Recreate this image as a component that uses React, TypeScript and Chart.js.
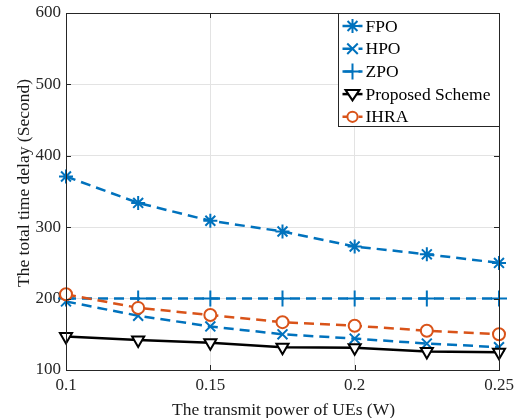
import React, { useEffect, useRef } from 'react';
import { Chart, registerables } from 'chart.js';
Chart.register(...registerables);

const powers = [0.1, 0.125, 0.15, 0.175, 0.2, 0.225, 0.25];
const fpo = [371, 334, 309, 294, 273, 262, 250];
const hpo = [196, 176, 161, 150, 144, 137, 132];
const zpo = [200, 200, 200, 200, 200, 200, 200];
const proposed = [147, 142, 138, 132, 131, 126, 125];
const ihra = [206, 187, 177, 167, 162, 155, 150];
const xTicks = [0.1, 0.15, 0.2, 0.25];
const yTicks = [100, 200, 300, 400, 500, 600];
const seriesNames = ['FPO', 'HPO', 'ZPO', 'Proposed Scheme', 'IHRA'];
const xTitle = 'The transmit power of UEs (W)';
const yTitle = 'The total time delay (Second)';

const BLUE = '#0072BD';
const ORANGE = '#D95319';
const BLACK = '#000000';
const FONT = '"Liberation Serif", "DejaVu Serif", serif';

function drawMarker(ctx: CanvasRenderingContext2D, style: string, x: number, y: number, r: number, color: string) {
  ctx.save();
  ctx.strokeStyle = color;
  ctx.lineWidth = 2;
  ctx.setLineDash([]);
  ctx.beginPath();
  if (style === 'star') {
    for (let i = 0; i < 4; i++) {
      const a = (i * Math.PI) / 4;
      ctx.moveTo(x - r * Math.cos(a), y - r * Math.sin(a));
      ctx.lineTo(x + r * Math.cos(a), y + r * Math.sin(a));
    }
    ctx.stroke();
  } else if (style === 'crossRot') {
    const d = r * 0.75;
    ctx.moveTo(x - d, y - d); ctx.lineTo(x + d, y + d);
    ctx.moveTo(x + d, y - d); ctx.lineTo(x - d, y + d);
    ctx.stroke();
  } else if (style === 'cross') {
    ctx.moveTo(x - r, y); ctx.lineTo(x + r, y);
    ctx.moveTo(x, y - r); ctx.lineTo(x, y + r);
    ctx.stroke();
  } else if (style === 'triangle') {
    ctx.moveTo(x - r, y - r * 0.6);
    ctx.lineTo(x + r, y - r * 0.6);
    ctx.lineTo(x, y + r * 0.9);
    ctx.closePath();
    ctx.fillStyle = '#fff';
    ctx.fill();
    ctx.stroke();
  } else {
    ctx.arc(x, y, r * 0.85, 0, Math.PI * 2);
    ctx.fillStyle = '#fff';
    ctx.fill();
    ctx.stroke();
  }
  ctx.restore();
}

const frameAndLegend = {
  id: 'frameAndLegend',
  afterDraw(chart: any) {
    const ctx: CanvasRenderingContext2D = chart.ctx;
    const { left, right, top, bottom } = chart.chartArea;
    const xs = chart.scales.x;
    const ys = chart.scales.y;
    ctx.save();
    ctx.strokeStyle = '#262626';
    ctx.lineWidth = 1;
    ctx.setLineDash([]);
    ctx.strokeRect(Math.round(left) + 0.5, Math.round(top) + 0.5, Math.round(right - left), Math.round(bottom - top));
    ctx.beginPath();
    const tl = 5;
    yTicks.forEach((v) => {
      const py = Math.round(ys.getPixelForValue(v)) + 0.5;
      ctx.moveTo(left, py); ctx.lineTo(left + tl, py);
      ctx.moveTo(right, py); ctx.lineTo(right - tl, py);
    });
    xTicks.forEach((v) => {
      const px = Math.round(xs.getPixelForValue(v)) + 0.5;
      ctx.moveTo(px, bottom); ctx.lineTo(px, bottom - tl);
      ctx.moveTo(px, top); ctx.lineTo(px, top + tl);
    });
    ctx.stroke();

    // axis titles
    ctx.fillStyle = '#1a1a1a';
    ctx.font = '17.5px ' + FONT;
    ctx.textAlign = 'center';
    ctx.textBaseline = 'middle';
    ctx.fillText(xTitle, (left + right) / 2 + 1, 410);
    ctx.save();
    ctx.translate(24, 183);
    ctx.rotate(-Math.PI / 2);
    ctx.fillText(yTitle, 0, 0);
    ctx.restore();

    // legend
    const w = 161, h = 113;
    const x0 = Math.round(right) - w + 0.5;
    const y0 = Math.round(top) + 0.5;
    ctx.fillStyle = '#fff';
    ctx.fillRect(x0, y0, w, h);
    ctx.strokeStyle = '#262626';
    ctx.strokeRect(x0, y0, w, h);
    ctx.font = '17.5px ' + FONT;
    ctx.textBaseline = 'middle';
    ctx.textAlign = 'left';
    chart.data.datasets.forEach((ds: any, i: number) => {
      const cy = y0 + 12.5 + i * 22.7;
      ctx.save();
      ctx.strokeStyle = ds.borderColor;
      ctx.lineWidth = ds.borderWidth;
      ctx.setLineDash(ds.borderDash || []);
      ctx.beginPath();
      ctx.moveTo(x0 + 4, cy);
      ctx.lineTo(x0 + 24, cy);
      ctx.stroke();
      ctx.restore();
      drawMarker(ctx, ds.pointStyle, x0 + 14, cy, ds.pointRadius, ds.borderColor);
      ctx.fillStyle = '#000';
      ctx.fillText(seriesNames[i], x0 + 27, cy + 1);
    });
    ctx.restore();
  },
};

export default function App() {
  const ref = useRef<HTMLCanvasElement>(null);
  useEffect(() => {
    if (!ref.current) return;
    const mk = (vals: number[]) => powers.map((p, i) => ({ x: p, y: vals[i] }));
    const chart = new Chart(ref.current, {
      type: 'line',
      data: {
        datasets: [
          { label: seriesNames[0], data: mk(fpo), borderColor: BLUE, backgroundColor: BLUE, borderWidth: 2.5, borderDash: [10, 6], pointStyle: 'star', pointRadius: 7, pointBorderWidth: 2, order: 5, clip: false as any },
          { label: seriesNames[1], data: mk(hpo), borderColor: BLUE, backgroundColor: BLUE, borderWidth: 2.5, borderDash: [10, 6], pointStyle: 'crossRot', pointRadius: 7, pointBorderWidth: 2, order: 4, clip: false as any },
          { label: seriesNames[2], data: mk(zpo), borderColor: BLUE, backgroundColor: BLUE, borderWidth: 2.5, borderDash: [10, 6], pointStyle: 'cross', pointRadius: 8, pointBorderWidth: 2, order: 3, clip: false as any },
          { label: seriesNames[3], data: mk(proposed), borderColor: BLACK, backgroundColor: '#fff', borderWidth: 2.5, pointStyle: 'triangle', pointRotation: 180, pointRadius: 7, pointBorderWidth: 2, order: 2, clip: false as any },
          { label: seriesNames[4], data: mk(ihra), borderColor: ORANGE, backgroundColor: '#fff', borderWidth: 2.5, borderDash: [10, 6], pointStyle: 'circle', pointRadius: 6, pointBorderWidth: 2, order: 1, clip: false as any },
        ],
      },
      options: {
        responsive: false,
        animation: false,
        layout: { padding: { left: 14, top: 13, right: 23, bottom: 0 } },
        plugins: { legend: { display: false }, tooltip: { enabled: false } },
        scales: {
          x: {
            type: 'linear',
            min: 0.1,
            max: 0.25,
            afterBuildTicks: (s: any) => { s.ticks = xTicks.map((v) => ({ value: v })); },
            afterFit: (s: any) => { s.height = 48; s.paddingLeft = 0; s.paddingRight = 0; },
            grid: { color: '#e3e3e3', drawTicks: false },
            border: { display: false },
            ticks: { padding: 5, color: '#262626', font: { family: FONT, size: 17 }, callback: (v: any) => String(v), maxRotation: 0 },
          },
          y: {
            type: 'linear',
            min: 100,
            max: 600,
            afterBuildTicks: (s: any) => { s.ticks = yTicks.map((v) => ({ value: v })); },
            afterFit: (s: any) => { s.width = 52; s.paddingTop = 0; s.paddingBottom = 0; },
            grid: { color: '#e3e3e3', drawTicks: false },
            border: { display: false },
            ticks: { padding: 5, color: '#262626', font: { family: FONT, size: 17 } },
          },
        },
      },
      plugins: [frameAndLegend],
    } as any);
    return () => chart.destroy();
  }, []);
  return (
    <div style={{ position: 'absolute', left: 0, top: 0, width: 522, height: 418, background: '#fff' }}>
      <canvas ref={ref} width={522} height={418} style={{ display: 'block' }} />
    </div>
  );
}
